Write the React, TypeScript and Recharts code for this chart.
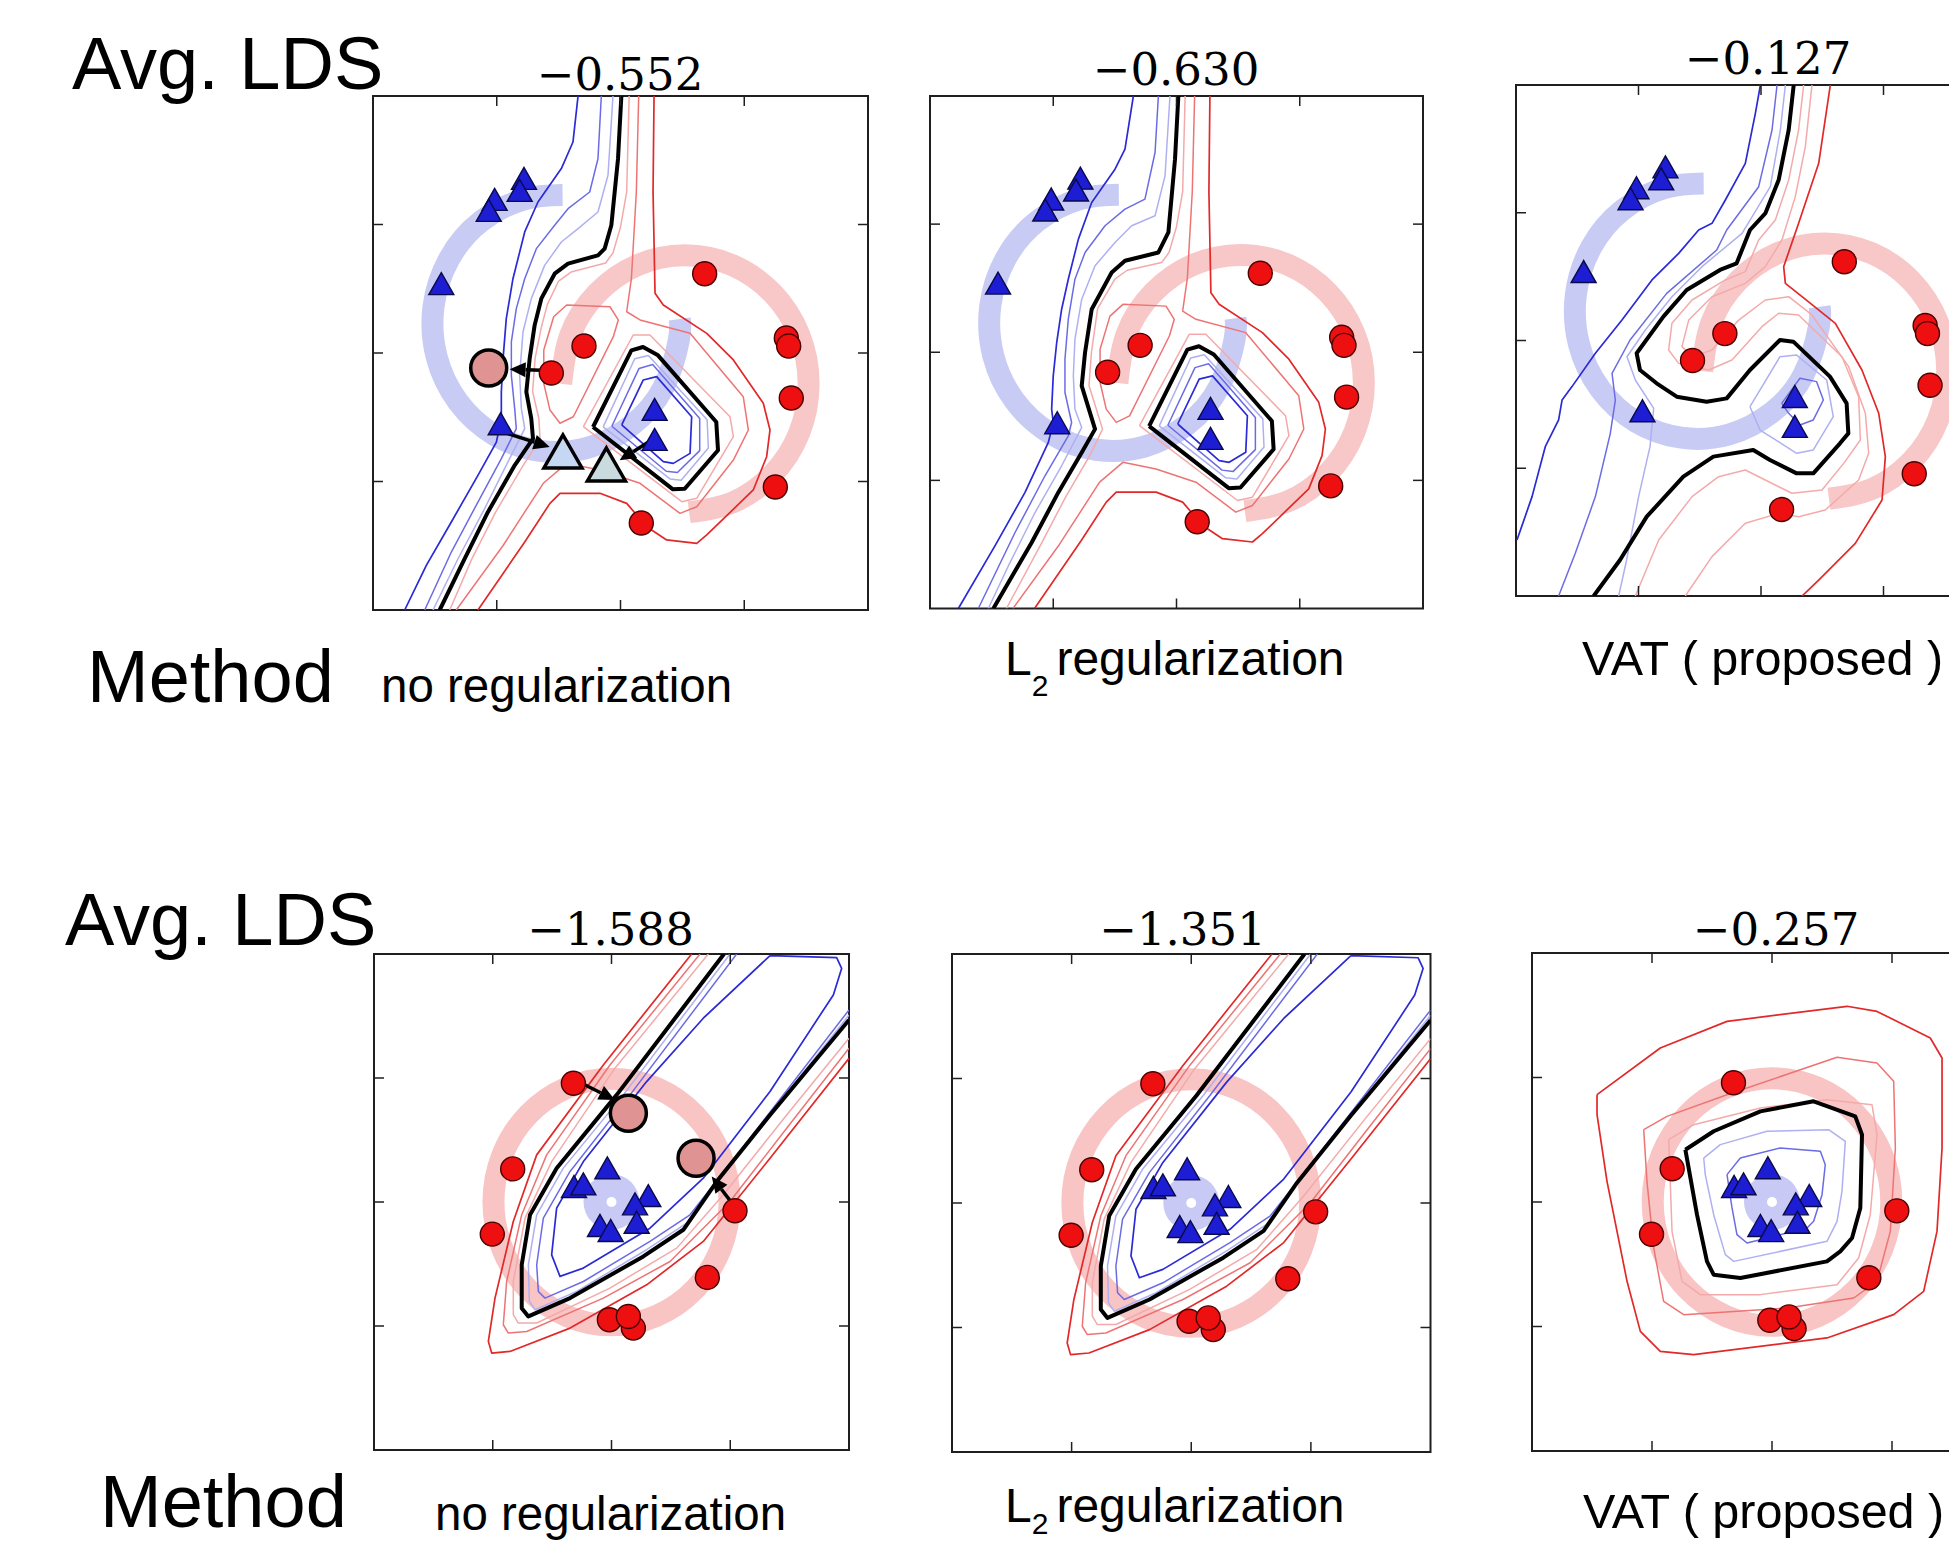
import React from "react";
import { ComposedChart, Line, Scatter, XAxis, YAxis, ReferenceLine, ReferenceArea } from "recharts";

type P = [number, number];

// tick positions shared by every panel (no labels, ticks inward on all four sides)
const TICKS = [-1, 0, 1];

// ---------- top row: two-moons data ----------
const TOP_RED: P[] = [[0.68, 0.617], [-0.295, 0.054], [-0.559, -0.156], [1.34, 0.117], [1.359, 0.054], [1.38, -0.35], [1.251, -1.043], [0.168, -1.323]];
const TOP_BLUE: P[] = [[-0.78, 1.351], [-0.815, 1.258], [-1.017, 1.188], [-1.065, 1.102], [-1.448, 0.532], [-0.968, -0.558], [0.276, -0.446], [0.276, -0.68]];
const TOP_BLUE_ARC: P[] = [[-0.468, 1.229], [-0.779, 1.196], [-1.129, 1.023], [-1.386, 0.73], [-1.511, 0.361], [-1.486, -0.029], [-1.313, -0.379], [-1.02, -0.636], [-0.651, -0.761], [-0.261, -0.736], [0.089, -0.563], [0.346, -0.27], [0.471, 0.099], [0.479, 0.265]];
const TOP_RED_ARC: P[] = [[0.555, -1.239], [0.903, -1.164], [1.227, -0.947], [1.444, -0.623], [1.52, -0.24], [1.444, 0.143], [1.227, 0.467], [0.903, 0.684], [0.52, 0.76], [0.137, 0.684], [-0.187, 0.467], [-0.404, 0.143], [-0.48, -0.24]];

// panel 1 (no regularization)
const T1_BLUE_STRONG: P[] = [[-0.343, 2], [-0.384, 1.642], [-0.478, 1.435], [-0.667, 1.175], [-0.774, 0.942], [-0.869, 0.578], [-0.923, 0.267], [-0.949, -0.044], [-0.963, -0.303], [-0.963, -0.511], [-1.003, -0.693], [-1.152, -0.952], [-1.367, -1.315], [-1.569, -1.653], [-1.744, -2]];
const T1_BLUE_MID: P[] = [[-0.155, 2], [-0.182, 1.512], [-0.249, 1.253], [-0.424, 1.123], [-0.532, 0.994], [-0.68, 0.812], [-0.774, 0.578], [-0.842, 0.345], [-0.882, 0.086], [-0.882, -0.174], [-0.855, -0.433], [-0.842, -0.589], [-0.963, -0.822], [-1.152, -1.16], [-1.367, -1.549], [-1.582, -2]];
const T1_BLUE_LIGHT: P[] = [[-0.061, 2], [-0.101, 1.383], [-0.182, 1.097], [-0.343, 0.968], [-0.478, 0.864], [-0.613, 0.682], [-0.721, 0.423], [-0.788, 0.163], [-0.815, -0.174], [-0.801, -0.433], [-0.774, -0.589], [-0.896, -0.822], [-1.098, -1.211], [-1.313, -1.601], [-1.515, -2]];
const T1_BLACK: P[] = [[0.007, 2], [-0.02, 1.512], [-0.074, 0.994], [-0.128, 0.812], [-0.182, 0.76], [-0.424, 0.695], [-0.532, 0.617], [-0.64, 0.423], [-0.694, 0.215], [-0.734, -0.044], [-0.761, -0.303], [-0.721, -0.511], [-0.707, -0.667], [-0.855, -0.874], [-1.071, -1.237], [-1.259, -1.601], [-1.461, -2]];
const T1_RED_LIGHT: P[] = [[0.07, 2], [0.05, 1.253], [0, 0.98], [-0.06, 0.78], [-0.12, 0.7], [-0.4, 0.63], [-0.5, 0.56], [-0.59, 0.38], [-0.64, 0.2], [-0.69, -0.04], [-0.71, -0.3], [-0.66, -0.51], [-0.65, -0.67], [-0.79, -0.88], [-1.01, -1.24], [-1.2, -1.6], [-1.38, -2]];
const T1_RED_MID: P[] = [[0.147, 2], [0.128, 1.253], [0.088, 0.578], [0.05, 0.321], [0.158, 0.257], [0.562, 0.153], [0.992, -0.34], [1.033, -0.599], [0.912, -0.833], [0.616, -1.196], [0.481, -1.248], [0.158, -1.014], [-0.166, -0.911], [-0.435, -0.859], [-0.624, -1.014], [-0.95, -1.5], [-1.327, -2]];
const T1_RED_STRONG: P[] = [[0.271, 2], [0.263, 1.253], [0.279, 0.465], [0.346, 0.374], [0.697, 0.153], [0.912, -0.054], [1.154, -0.391], [1.208, -0.599], [1.181, -0.807], [1.073, -1.066], [0.697, -1.416], [0.616, -1.481], [0.373, -1.455], [0.212, -1.352], [0.05, -1.17], [-0.166, -1.092], [-0.489, -1.092], [-0.57, -1.17], [-0.774, -1.471], [-1.152, -2]];
const T1_LOOP_RED_LEFT: P[] = [[-0.62, 0.023], [-0.54, 0.282], [-0.435, 0.374], [-0.085, 0.36], [-0.018, 0.257], [-0.058, 0.127], [-0.381, -0.496], [-0.489, -0.547], [-0.57, -0.444], [-0.62, -0.236], [-0.62, 0.023]];
const T1_LOOP_RED_LIGHT: P[] = [[-0.3, -0.573], [0.103, 0.14], [0.238, 0.14], [0.885, -0.496], [0.912, -0.651], [0.616, -1.131], [0.495, -1.157], [-0.3, -0.573]];
const T1_LOOP_BLACK: P[] = [[-0.222, -0.576], [0.088, 0.021], [0.182, 0.047], [0.303, -0.018], [0.774, -0.537], [0.788, -0.757], [0.519, -1.056], [0.424, -1.061], [-0.222, -0.576]];
const T1_LOOP_BLUE_LIGHT: P[] = [[-0.14, -0.575], [0.115, -0.045], [0.225, -0.02], [0.7, -0.52], [0.71, -0.74], [0.49, -0.99], [0.4, -0.98], [-0.14, -0.575]];
const T1_LOOP_BLUE_MID: P[] = [[-0.07, -0.57], [0.15, -0.12], [0.26, -0.09], [0.64, -0.51], [0.64, -0.76], [0.46, -0.93], [0.37, -0.92], [-0.07, -0.57]];
const T1_LOOP_BLUE_STRONG: P[] = [[0.01, -0.56], [0.184, -0.21], [0.292, -0.184], [0.575, -0.496], [0.562, -0.781], [0.427, -0.859], [0.346, -0.846], [0.01, -0.56]];
const T1_PINK: P[] = [[-1.065, -0.117]];
const T1_TRI_A: P[] = [[-0.465, -0.778]];
const T1_TRI_B: P[] = [[-0.114, -0.879]];
const T1_ARROWS: [P, P][] = [[[-0.64, -0.135], [-0.896, -0.127]], [[-0.909, -0.628], [-0.572, -0.732]], [[0.29, -0.654], [-0.007, -0.835]]];

// panel 2 (L2 regularization)
const T2_BLUE_STRONG: P[] = [[-0.35, 2], [-0.418, 1.585], [-0.499, 1.429], [-0.688, 1.169], [-0.796, 0.883], [-0.878, 0.57], [-0.932, 0.336], [-0.972, 0.076], [-1.0, -0.184], [-1.013, -0.444], [-1.0, -0.548], [-1.04, -0.704], [-1.229, -1.094], [-1.473, -1.511], [-1.77, -2]];
const T2_BLUE_MID: P[] = [[-0.147, 2], [-0.174, 1.559], [-0.256, 1.195], [-0.418, 1.117], [-0.58, 0.987], [-0.742, 0.779], [-0.824, 0.57], [-0.878, 0.258], [-0.905, -0.054], [-0.905, -0.314], [-0.851, -0.548], [-0.878, -0.652], [-1.067, -0.964], [-1.31, -1.407], [-1.608, -2]];
const T2_BLUE_LIGHT: P[] = [[-0.053, 2], [-0.093, 1.377], [-0.174, 1.065], [-0.364, 0.987], [-0.499, 0.857], [-0.661, 0.675], [-0.769, 0.414], [-0.824, 0.102], [-0.837, -0.184], [-0.824, -0.444], [-0.769, -0.587], [-0.932, -0.886], [-1.148, -1.251], [-1.364, -1.667], [-1.527, -2]];
const T2_BLACK: P[] = [[0.015, 2], [-0.012, 1.507], [-0.066, 0.935], [-0.147, 0.779], [-0.418, 0.714], [-0.526, 0.622], [-0.688, 0.336], [-0.742, -0.002], [-0.769, -0.262], [-0.661, -0.6], [-0.769, -0.782], [-0.959, -1.094], [-1.175, -1.485], [-1.486, -2]];
const T2_RED_LIGHT: P[] = [[0.07, 2], [0.05, 1.253], [0, 0.98], [-0.06, 0.78], [-0.12, 0.7], [-0.4, 0.64], [-0.5, 0.57], [-0.64, 0.34], [-0.69, 0], [-0.71, -0.26], [-0.6, -0.6], [-0.7, -0.8], [-0.9, -1.13], [-1.1, -1.5], [-1.38, -2]];

// panel 3 (VAT)
const T3_BLUE_STRONG: P[] = [[-0.005, 2], [-0.046, 1.778], [-0.128, 1.387], [-0.291, 1.1], [-0.4, 0.917], [-0.509, 0.865], [-0.672, 0.682], [-0.89, 0.474], [-1.135, 0.16], [-1.352, -0.1], [-1.543, -0.361], [-1.624, -0.466], [-1.652, -0.622], [-1.761, -0.831], [-1.869, -1.222], [-1.992, -1.562]];
const T3_BLUE_MID: P[] = [[0.131, 2], [0.09, 1.648], [-0.019, 1.204], [-0.28, 0.865], [-0.362, 0.708], [-0.77, 0.369], [-1.069, 0.004], [-1.216, -0.257], [-1.189, -0.466], [-1.23, -0.727], [-1.352, -1.222], [-1.516, -1.666], [-1.652, -2]];
const T3_BLUE_LIGHT: P[] = [[0.199, 2], [0.158, 1.648], [0.076, 1.204], [-0.155, 0.839], [-0.482, 0.578], [-0.727, 0.343], [-0.944, 0.082], [-1.094, -0.127], [-1.026, -0.309], [-0.876, -0.531], [-0.906, -0.831], [-0.999, -1.222], [-1.097, -1.718], [-1.162, -2]];
const T3_BLACK: P[] = [[0.267, 2], [0.226, 1.648], [0.144, 1.256], [0.035, 0.995], [-0.09, 0.865], [-0.199, 0.604], [-0.335, 0.552], [-0.607, 0.395], [-0.797, 0.187], [-1.015, -0.1], [-0.988, -0.231], [-0.852, -0.335], [-0.688, -0.44], [-0.444, -0.479], [-0.28, -0.453], [-0.09, -0.231], [0.155, 0.004], [0.264, -0.009], [0.563, -0.283], [0.699, -0.492], [0.713, -0.727], [0.645, -0.805], [0.427, -1.04], [0.291, -1.04], [0.073, -0.935], [-0.063, -0.857], [-0.389, -0.909], [-0.634, -1.066], [-0.933, -1.379], [-1.151, -1.718], [-1.366, -2]];
const T3_LOOP_BLUE_LIGHT: P[] = [[-0.09, -0.518], [0.155, -0.127], [0.291, -0.114], [0.536, -0.309], [0.59, -0.596], [0.427, -0.857], [0.291, -0.883], [-0.008, -0.701], [-0.09, -0.518]];
const T3_LOOP_BLUE_STRONG: P[] = [[0.169, -0.492], [0.318, -0.296], [0.454, -0.322], [0.509, -0.466], [0.427, -0.622], [0.318, -0.661], [0.226, -0.57], [0.169, -0.492]];
const T3_RED_LIGHT: P[] = [[0.348, 2], [0.307, 1.648], [0.226, 1.256], [0.117, 0.943], [-0.019, 0.787], [-0.128, 0.539], [-0.291, 0.474], [-0.563, 0.317], [-0.727, 0.135], [-0.754, -0.074], [-0.672, -0.179], [-0.427, -0.231], [-0.237, -0.153], [0.008, 0.108], [0.144, 0.213], [0.307, 0.2], [0.661, -0.127], [0.797, -0.44], [0.811, -0.779], [0.675, -0.962], [0.498, -1.17], [0.253, -1.196], [0.035, -1.092], [-0.128, -1.014], [-0.346, -1.066], [-0.563, -1.222], [-0.835, -1.562], [-1.026, -2]];
const T3_RED_MID: P[] = [[0.416, 2], [0.362, 1.517], [0.28, 1.126], [0.171, 0.787], [0.035, 0.578], [-0.128, 0.447], [-0.4, 0.343], [-0.59, 0.16], [-0.645, -0.048], [-0.563, -0.127], [-0.4, -0.074], [-0.182, 0.16], [0.035, 0.317], [0.226, 0.343], [0.416, 0.2], [0.716, -0.205], [0.852, -0.57], [0.879, -0.883], [0.797, -1.092], [0.525, -1.327], [0.307, -1.379], [0.144, -1.353], [-0.128, -1.431], [-0.4, -1.692], [-0.618, -2]];
const T3_RED_STRONG: P[] = [[0.566, 2], [0.471, 1.387], [0.307, 0.917], [0.185, 0.578], [0.199, 0.447], [0.335, 0.343], [0.607, 0.134], [0.824, -0.231], [0.961, -0.57], [1.015, -0.909], [0.988, -1.249], [0.77, -1.588], [0.471, -1.875], [0.335, -2]];

// ---------- bottom row: ring data ----------
const BOT_RED: P[] = [[-0.321, 0.958], [-0.832, 0.267], [-1.004, -0.259], [1.04, -0.071], [0.807, -0.608], [-0.018, -0.95], [0.184, -1.017], [0.142, -0.923]];
const BOT_BLUE: P[] = [[-0.035, 0.267], [-0.316, 0.117], [-0.237, 0.138], [0.31, 0.044], [0.198, -0.023], [0.212, -0.171], [-0.097, -0.197], [-0.007, -0.238]];
const BOT_CENTER: P[] = [[0, 0]];
const BOT_RING: P[] = [[1.02, 0], [0.942, 0.39], [0.721, 0.721], [0.39, 0.942], [0, 1.02], [-0.39, 0.942], [-0.721, 0.721], [-0.942, 0.39], [-1.02, 0], [-0.942, -0.39], [-0.721, -0.721], [-0.39, -0.942], [0, -1.02], [0.39, -0.942], [0.721, -0.721], [0.942, -0.39]];

// panels 1 and 2 (diagonal band)
const B1_RED_STRONG: P[] = [[0.675, 2], [-0.069, 1.105], [-0.63, 0.38], [-0.827, -0.157], [-0.981, -0.775], [-1.037, -1.124], [-1.009, -1.218], [-0.855, -1.205], [-0.349, -1.017], [0.296, -0.668], [0.773, -0.318], [1.335, 0.353], [2, 1.159]];
const B1_RED_MID: P[] = [[0.745, 2], [-0.013, 1.105], [-0.546, 0.38], [-0.756, -0.103], [-0.883, -0.641], [-0.911, -0.99], [-0.869, -1.057], [-0.714, -1.044], [-0.069, -0.775], [0.493, -0.48], [0.998, 0.004], [1.475, 0.595], [2, 1.24]];
const B1_RED_LIGHT: P[] = [[0.815, 2], [0.029, 1.079], [-0.504, 0.326], [-0.728, -0.13], [-0.827, -0.641], [-0.827, -0.909], [-0.785, -0.976], [-0.63, -0.976], [-0.013, -0.694], [0.549, -0.372], [0.942, 0.058], [1.475, 0.702], [2, 1.32]];
const B1_BLACK: P[] = [[0.947, 2], [0.044, 0.864], [-0.462, 0.273], [-0.686, -0.103], [-0.756, -0.506], [-0.756, -0.856], [-0.7, -0.923], [-0.349, -0.775], [0.268, -0.439], [0.605, -0.224], [0.886, 0.165], [1.335, 0.702], [2, 1.468]];
const B1_BLUE_LIGHT: P[] = [[0.998, 2], [0.1, 0.864], [-0.406, 0.273], [-0.63, -0.103], [-0.7, -0.506], [-0.692, -0.802], [-0.644, -0.869], [-0.293, -0.721], [0.296, -0.385], [0.633, -0.17], [0.942, 0.232], [2, 1.508]];
const B1_BLUE_MID: P[] = [[1.054, 2], [0.156, 0.864], [-0.349, 0.246], [-0.574, -0.13], [-0.63, -0.506], [-0.616, -0.721], [-0.56, -0.775], [-0.237, -0.641], [0.324, -0.318], [0.661, -0.103], [0.97, 0.273], [2, 1.549]];
const B1_LOOP_BLUE_STRONG: P[] = [[1.335, 1.987], [0.773, 1.482], [0.296, 0.971], [-0.237, 0.326], [-0.462, -0.05], [-0.504, -0.426], [-0.434, -0.6], [-0.237, -0.533], [0.324, -0.211], [0.773, 0.192], [1.335, 0.891], [1.868, 1.67], [1.938, 1.884], [1.896, 1.97], [1.335, 1.987]];
const B1_PINK: P[] = [[0.142, 0.716], [0.712, 0.353]];
const B1_ARROWS: [P, P][] = [[[-0.251, 0.958], [0.029, 0.823]], [[1.026, -0.023], [0.844, 0.206]]];

// panel 3 (concentric loops)
const B3_RED_STRONG: P[] = [[-1.458, 0.862], [-0.931, 1.237], [-0.375, 1.451], [0.625, 1.572], [0.875, 1.531], [1.319, 1.317], [1.417, 1.157], [1.417, 0.434], [1.375, -0.236], [1.264, -0.718], [1.014, -0.905], [0.458, -1.092], [-0.653, -1.226], [-0.931, -1.2], [-1.097, -1.039], [-1.208, -0.637], [-1.375, 0.166], [-1.458, 0.701], [-1.458, 0.862]];
const B3_RED_MID: P[] = [[-1.069, 0.581], [-0.875, 0.688], [-0.375, 0.862], [0.542, 1.162], [0.875, 1.116], [1.014, 0.969], [1.028, 0.434], [0.986, -0.236], [0.875, -0.637], [0.681, -0.771], [0.125, -0.851], [-0.736, -0.905], [-0.903, -0.798], [-0.986, -0.369], [-1.042, 0.166], [-1.069, 0.581]];
const B3_RED_LIGHT: P[] = [[-0.861, 0.501], [-0.653, 0.621], [-0.097, 0.755], [0.458, 0.822], [0.833, 0.782], [0.875, 0.541], [0.819, -0.102], [0.722, -0.45], [0.542, -0.664], [-0.097, -0.744], [-0.597, -0.744], [-0.75, -0.637], [-0.833, -0.236], [-0.861, 0.501]];
const B3_BLACK: P[] = [[-0.722, 0.42], [-0.486, 0.568], [-0.097, 0.728], [0.347, 0.809], [0.694, 0.688], [0.75, 0.541], [0.736, -0.048], [0.667, -0.289], [0.569, -0.396], [0.458, -0.477], [-0.264, -0.61], [-0.486, -0.584], [-0.542, -0.477], [-0.625, -0.102], [-0.722, 0.42]];
const B3_BLUE_LIGHT: P[] = [[-0.569, 0.353], [-0.431, 0.461], [-0.042, 0.568], [0.472, 0.581], [0.611, 0.487], [0.583, 0.086], [0.542, -0.155], [0.458, -0.316], [-0.319, -0.477], [-0.389, -0.423], [-0.486, -0.102], [-0.556, 0.22], [-0.569, 0.353]];
const B3_BLUE_STRONG: P[] = [[-0.375, 0.22], [-0.264, 0.353], [0.069, 0.434], [0.403, 0.407], [0.444, 0.3], [0.417, 0.059], [0.347, -0.155], [0.292, -0.209], [-0.208, -0.329], [-0.292, -0.262], [-0.333, -0.048], [-0.375, 0.22]];

const STYLE: Record<string, { stroke: string; width: number }> = {
  blueStrong: { stroke: "#2a2ad6", width: 1.7 },
  blueMid: { stroke: "#6b6be6", width: 1.5 },
  blueLight: { stroke: "#aeb0f2", width: 1.5 },
  black: { stroke: "#000000", width: 4 },
  redLight: { stroke: "#f4aaaa", width: 1.5 },
  redMid: { stroke: "#ee7373", width: 1.5 },
  redStrong: { stroke: "#e22828", width: 1.7 },
};

const toPts = (a: P[]) => a.map(([x, y]) => ({ x, y }));

const RedDot = (p: any) => <circle cx={p.cx} cy={p.cy} r={12} fill="#ee1010" stroke="#4a0000" strokeWidth={1.4} />;
const BlueTri = (p: any) => (
  <polygon points={`${p.cx},${p.cy - 12} ${p.cx - 12.5},${p.cy + 10} ${p.cx + 12.5},${p.cy + 10}`} fill="#1d1dd4" stroke="#0a0a4a" strokeWidth={1.4} />
);
const PinkDot = (p: any) => <circle cx={p.cx} cy={p.cy} r={18} fill="#e09393" stroke="#000" strokeWidth={3.5} />;
const mkBigTri = (fill: string) => (p: any) => (
  <polygon points={`${p.cx},${p.cy - 18} ${p.cx - 19},${p.cy + 15} ${p.cx + 19},${p.cy + 15}`} fill={fill} stroke="#000" strokeWidth={3.5} />
);
const TriA = mkBigTri("#c6d7f4");
const TriB = mkBigTri("#c9dbdf");
const Blob = (p: any) => (
  <g>
    <circle cx={p.cx} cy={p.cy} r={28} fill="#c9c9f6" />
    <circle cx={p.cx} cy={p.cy} r={5} fill="#ffffff" />
  </g>
);

function Arrow(p: any) {
  const { x1, y1, x2, y2 } = p;
  const dx = x2 - x1;
  const dy = y2 - y1;
  const L = Math.hypot(dx, dy) || 1;
  const ux = dx / L;
  const uy = dy / L;
  const bx = x2 - ux * 16;
  const by = y2 - uy * 16;
  return (
    <g>
      <line x1={x1} y1={y1} x2={bx} y2={by} stroke="#000" strokeWidth={3.5} />
      <polygon points={`${x2},${y2} ${bx - uy * 7.5},${by + ux * 7.5} ${bx + uy * 7.5},${by - ux * 7.5}`} fill="#000" />
    </g>
  );
}

type Ring = { pts: P[]; color: string; type: "natural" | "basisClosed" };
type Panel = {
  left: number;
  top: number;
  w: number;
  h: number;
  rings: Ring[];
  lines: { pts: P[]; style: string }[];
  arrows?: [P, P][];
  blob?: boolean;
  reds: P[];
  blues: P[];
  pinks?: P[];
  triA?: P[];
  triB?: P[];
};

const TOP_RINGS: Ring[] = [
  { pts: TOP_RED_ARC, color: "#f8c8c8", type: "natural" },
  { pts: TOP_BLUE_ARC, color: "#c8cbf4", type: "natural" },
];
const BOT_RINGS: Ring[] = [{ pts: BOT_RING, color: "#f9c4c4", type: "basisClosed" }];

const T1_SHARED = [
  { pts: T1_LOOP_RED_LEFT, style: "redMid" },
  { pts: T1_RED_MID, style: "redMid" },
  { pts: T1_RED_STRONG, style: "redStrong" },
  { pts: T1_LOOP_RED_LIGHT, style: "redLight" },
  { pts: T1_LOOP_BLUE_LIGHT, style: "blueLight" },
  { pts: T1_LOOP_BLUE_MID, style: "blueMid" },
  { pts: T1_LOOP_BLUE_STRONG, style: "blueStrong" },
  { pts: T1_LOOP_BLACK, style: "black" },
];

const B1_LINES = [
  { pts: B1_RED_STRONG, style: "redStrong" },
  { pts: B1_RED_MID, style: "redMid" },
  { pts: B1_RED_LIGHT, style: "redLight" },
  { pts: B1_BLUE_LIGHT, style: "blueLight" },
  { pts: B1_BLUE_MID, style: "blueMid" },
  { pts: B1_LOOP_BLUE_STRONG, style: "blueStrong" },
  { pts: B1_BLACK, style: "black" },
];

const PANELS: Panel[] = [
  {
    left: 373, top: 96, w: 495, h: 514, rings: TOP_RINGS,
    lines: [
      { pts: T1_BLUE_STRONG, style: "blueStrong" },
      { pts: T1_BLUE_MID, style: "blueMid" },
      { pts: T1_BLUE_LIGHT, style: "blueLight" },
      { pts: T1_RED_LIGHT, style: "redLight" },
      ...T1_SHARED,
      { pts: T1_BLACK, style: "black" },
    ],
    arrows: T1_ARROWS, reds: TOP_RED, blues: TOP_BLUE, pinks: T1_PINK, triA: T1_TRI_A, triB: T1_TRI_B,
  },
  {
    left: 930, top: 95.5, w: 493, h: 512.5, rings: TOP_RINGS,
    lines: [
      { pts: T2_BLUE_STRONG, style: "blueStrong" },
      { pts: T2_BLUE_MID, style: "blueMid" },
      { pts: T2_BLUE_LIGHT, style: "blueLight" },
      { pts: T2_RED_LIGHT, style: "redLight" },
      ...T1_SHARED,
      { pts: T2_BLACK, style: "black" },
    ],
    reds: TOP_RED, blues: TOP_BLUE,
  },
  {
    left: 1516, top: 85, w: 490, h: 511, rings: TOP_RINGS,
    lines: [
      { pts: T3_BLUE_STRONG, style: "blueStrong" },
      { pts: T3_BLUE_MID, style: "blueMid" },
      { pts: T3_BLUE_LIGHT, style: "blueLight" },
      { pts: T3_LOOP_BLUE_LIGHT, style: "blueLight" },
      { pts: T3_LOOP_BLUE_STRONG, style: "blueMid" },
      { pts: T3_RED_LIGHT, style: "redLight" },
      { pts: T3_RED_MID, style: "redLight" },
      { pts: T3_RED_STRONG, style: "redStrong" },
      { pts: T3_BLACK, style: "black" },
    ],
    reds: TOP_RED, blues: TOP_BLUE,
  },
  {
    left: 374, top: 953.6, w: 475, h: 496, rings: BOT_RINGS, blob: true,
    lines: B1_LINES, arrows: B1_ARROWS, reds: BOT_RED, blues: BOT_BLUE, pinks: B1_PINK,
  },
  {
    left: 951.5, top: 953.6, w: 478.5, h: 498, rings: BOT_RINGS, blob: true,
    lines: B1_LINES, reds: BOT_RED, blues: BOT_BLUE,
  },
  {
    left: 1532, top: 953, w: 480, h: 498, rings: BOT_RINGS, blob: true,
    lines: [
      { pts: B3_RED_STRONG, style: "redStrong" },
      { pts: B3_RED_MID, style: "redMid" },
      { pts: B3_RED_LIGHT, style: "redLight" },
      { pts: B3_BLUE_LIGHT, style: "blueLight" },
      { pts: B3_BLUE_STRONG, style: "blueMid" },
      { pts: B3_BLACK, style: "black" },
    ],
    reds: BOT_RED, blues: BOT_BLUE,
  },
];

const FRAME = "#1f1f1f";
const TICK_PX = 10;

function PanelChart({ p }: { p: Panel }) {
  // tick length, converted from pixels into data units of this panel
  const tx = (TICK_PX * 4) / p.w;
  const ty = (TICK_PX * 4) / p.h;
  const tickSegs: [P, P][] = [];
  TICKS.forEach((v) => {
    tickSegs.push([[v, -2], [v, -2 + ty]]);
    tickSegs.push([[v, 2], [v, 2 - ty]]);
    tickSegs.push([[-2, v], [-2 + tx, v]]);
    tickSegs.push([[2, v], [2 - tx, v]]);
  });
  return (
    <div style={{ position: "absolute", left: p.left - 2, top: p.top - 2 }}>
      <ComposedChart width={p.w + 4} height={p.h + 4} margin={{ top: 2, right: 2, bottom: 2, left: 2 }}>
        <XAxis xAxisId="b" dataKey="x" type="number" domain={[-2, 2]} allowDataOverflow hide />
        <YAxis yAxisId="l" dataKey="y" type="number" domain={[-2, 2]} allowDataOverflow hide />
        {p.rings.map((r, i) => (
          <Line key={`ring${i}`} xAxisId="b" yAxisId="l" data={toPts(r.pts)} dataKey="y" type={r.type}
            stroke={r.color} strokeWidth={22} dot={false} activeDot={false} isAnimationActive={false} />
        ))}
        {p.lines.map((l, i) => (
          <Line key={`c${i}`} xAxisId="b" yAxisId="l" data={toPts(l.pts)} dataKey="y" type="linear"
            stroke={STYLE[l.style].stroke} strokeWidth={STYLE[l.style].width} strokeLinejoin="round"
            dot={false} activeDot={false} isAnimationActive={false} />
        ))}
        <ReferenceArea xAxisId="b" yAxisId="l" x1={-2} x2={2} y1={-2} y2={2} fill="none" fillOpacity={0}
          stroke={FRAME} strokeWidth={2} ifOverflow="visible" />
        {tickSegs.map((s, i) => (
          <ReferenceLine key={`t${i}`} xAxisId="b" yAxisId="l" segment={[{ x: s[0][0], y: s[0][1] }, { x: s[1][0], y: s[1][1] }]}
            stroke={FRAME} strokeWidth={1.5} ifOverflow="visible" />
        ))}
        {(p.arrows || []).map((a, i) => (
          <ReferenceLine key={`a${i}`} xAxisId="b" yAxisId="l" segment={[{ x: a[0][0], y: a[0][1] }, { x: a[1][0], y: a[1][1] }]}
            shape={Arrow} ifOverflow="visible" />
        ))}
        {p.blob && <Scatter xAxisId="b" yAxisId="l" data={toPts(BOT_CENTER)} shape={Blob} isAnimationActive={false} />}
        <Scatter xAxisId="b" yAxisId="l" data={toPts(p.reds)} shape={RedDot} isAnimationActive={false} />
        <Scatter xAxisId="b" yAxisId="l" data={toPts(p.blues)} shape={BlueTri} isAnimationActive={false} />
        {p.pinks && <Scatter xAxisId="b" yAxisId="l" data={toPts(p.pinks)} shape={PinkDot} isAnimationActive={false} />}
        {p.triA && <Scatter xAxisId="b" yAxisId="l" data={toPts(p.triA)} shape={TriA} isAnimationActive={false} />}
        {p.triB && <Scatter xAxisId="b" yAxisId="l" data={toPts(p.triB)} shape={TriB} isAnimationActive={false} />}
      </ComposedChart>
    </div>
  );
}

const SANS = "'Liberation Sans', Arial, sans-serif";
const SERIF = "'DejaVu Serif', serif";

const SCORES = [
  { text: "\u22120.552", x: 620, y: 89.5 },
  { text: "\u22120.630", x: 1176, y: 85 },
  { text: "\u22120.127", x: 1768, y: 73.5 },
  { text: "\u22121.588", x: 610.5, y: 945 },
  { text: "\u22121.351", x: 1182.5, y: 945 },
  { text: "\u22120.257", x: 1776, y: 945 },
];

function L2Label({ x, y, sub }: { x: number; y: number; sub: number }) {
  return (
    <text x={x} y={y} fontSize={48} fontFamily={SANS} fill="#000">
      L<tspan fontSize={30} dy={sub}>2</tspan>
      <tspan dy={-sub} dx={8}>regularization</tspan>
    </text>
  );
}

export default function App() {
  return (
    <div style={{ position: "fixed", left: 0, top: 0, width: 1949, height: 1543, overflow: "hidden", background: "#fff" }}>
      <svg width={1949} height={1543} style={{ position: "absolute", left: 0, top: 0 }}>
        <text x={72} y={89} fontSize={74} fontFamily={SANS}>Avg. LDS</text>
        <text x={65} y={945} fontSize={74} fontFamily={SANS}>Avg. LDS</text>
        <text x={87} y={702} fontSize={74} fontFamily={SANS}>Method</text>
        <text x={100} y={1527} fontSize={74} fontFamily={SANS}>Method</text>
        <text x={381} y={702} fontSize={47.5} fontFamily={SANS}>no regularization</text>
        <text x={435} y={1530} fontSize={47.5} fontFamily={SANS}>no regularization</text>
        <L2Label x={1005} y={675} sub={21} />
        <L2Label x={1005} y={1522} sub={12} />
        <text x={1582} y={675} fontSize={48.5} fontFamily={SANS}>VAT ( proposed )</text>
        <text x={1583} y={1528} fontSize={48.5} fontFamily={SANS}>VAT ( proposed )</text>
        {SCORES.map((s) => (
          <text key={s.text} x={s.x} y={s.y} fontSize={45} fontFamily={SERIF} textAnchor="middle">{s.text}</text>
        ))}
      </svg>
      {PANELS.map((p, i) => (
        <PanelChart key={i} p={p} />
      ))}
    </div>
  );
}
